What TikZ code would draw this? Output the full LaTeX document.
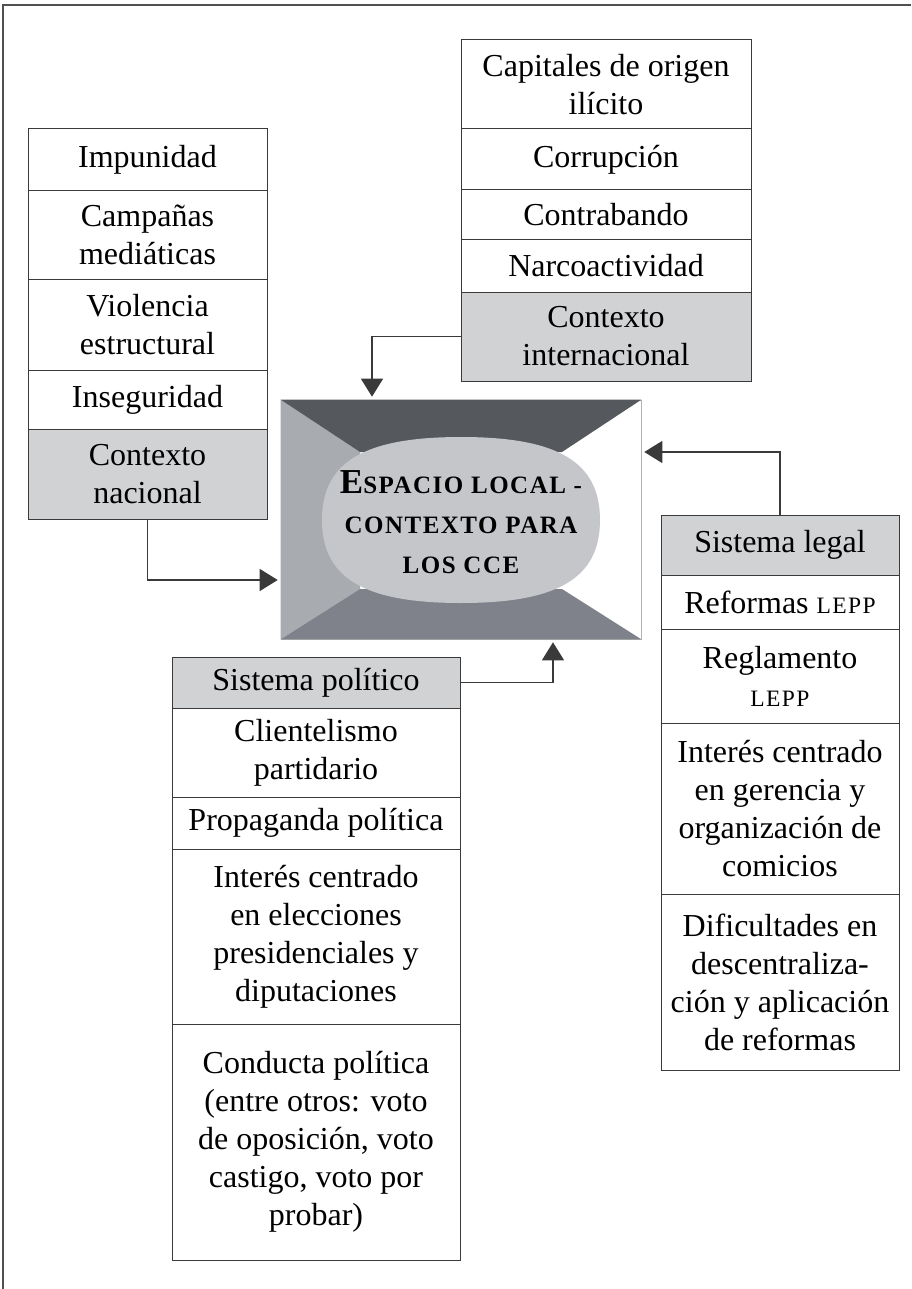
\documentclass[tikz,border=0pt]{standalone}
\usepackage{fontspec}
\setmainfont{Liberation Serif}
\newfontfamily\scfont{Liberation Serif}[LetterSpace=6]
\usetikzlibrary{arrows.meta}

\definecolor{linecol}{HTML}{3A3A3A}
\definecolor{framecol}{HTML}{505050}
\definecolor{hdr}{HTML}{D1D2D4}
\definecolor{sidecol}{HTML}{A8ABB0}
\definecolor{topcol}{HTML}{55585D}
\definecolor{botcol}{HTML}{7F828A}
\definecolor{corecol}{HTML}{C4C6CA}

% small capitals imitated with reduced upper-case letters
\newcommand\fsc[1]{{\scfont\fontsize{23.5}{38}\selectfont #1}}
\newcommand\fscb[1]{{\scfont\bfseries\fontsize{25}{38}\selectfont #1}}

% one cell of a stack: name, x1, y1, x2, y2, extra options, text
\newcommand\mkcell[7]{%
  \node[cell,#6,minimum width={(#4-#2)*1pt},minimum height={(#5-#3)*1pt}]
    (#1) at ({(#2+#4)/2},{(#3+#5)/2}) {#7};}

\begin{document}
\begin{tikzpicture}[x=1pt,y=-1pt,
  cell/.style={draw=linecol,line width=1pt,fill=white,inner sep=0pt,
    align=center,font=\fontsize{32}{38}\selectfont},
  head/.style={fill=hdr},
  arr/.style={draw=linecol,line width=1.2pt,
    -{Triangle[length=18pt,width=22pt]},shorten >=3pt}]

\useasboundingbox (0,0) rectangle (911,1289);

% page frame (top and left rules)
\draw[framecol,line width=2.5pt] (911,5) -- (3,5) -- (3,1289);

% national context
\mkcell{L1}{28}{129}{267}{191}{}{Impunidad}
\mkcell{L2}{28}{191}{267}{279}{}{Campañas\\mediáticas}
\mkcell{L3}{28}{279}{267}{370}{}{Violencia\\estructural}
\mkcell{L4}{28}{370}{267}{429}{}{Inseguridad}
\mkcell{L5}{28}{429}{267}{519}{head}{Contexto\\nacional}

% international context
\mkcell{T1}{461}{40}{751}{129}{}{Capitales de origen\\ilícito}
\mkcell{T2}{461}{129}{751}{190}{}{Corrupción}
\mkcell{T3}{461}{190}{751}{240}{}{Contrabando}
\mkcell{T4}{461}{240}{751}{292}{}{Narcoactividad}
\mkcell{T5}{461}{292}{751}{381}{head}{Contexto\\internacional}

% legal system
\mkcell{R1}{661}{515}{899}{575}{head}{Sistema legal}
\mkcell{R2}{661}{575}{899}{629}{}{Reformas \fsc{LEPP}}
\mkcell{R3}{661}{629}{899}{723}{}{Reglamento\\\fsc{LEPP}}
\mkcell{R4}{661}{723}{899}{894}{}{Interés centrado\\en gerencia y\\organización de\\comicios}
\mkcell{R5}{661}{894}{899}{1070}{}{Dificultades en\\descentraliza-\\ción y aplicación\\de reformas}

% political system
\mkcell{B1}{172}{657}{460}{708}{head}{Sistema político}
\mkcell{B2}{172}{708}{460}{797}{}{Clientelismo\\partidario}
\mkcell{B3}{172}{797}{460}{849}{}{Propaganda política}
\mkcell{B4}{172}{849}{460}{1024}{}{Interés centrado\\en elecciones\\presidenciales y\\diputaciones}
\mkcell{B5}{172}{1024}{460}{1260}{}{Conducta política\\(entre otros: voto\\de oposición, voto\\castigo, voto por\\probar)}

% central framed space
\node[draw=gray!60,line width=0.6pt,minimum width=360pt,minimum height=239pt,
  inner sep=0pt] (box) at (461,519.5) {};
\coordinate (inw) at (360,452);
\coordinate (ine) at (562,452);
\coordinate (isw) at (360,589);
\coordinate (ise) at (562,589);
\fill[sidecol] (box.north west) -- (inw) -- (isw) -- (box.south west) -- cycle;
\fill[topcol] (box.north west) -- (box.north east) -- (ine) -- (inw) -- cycle;
\fill[botcol] (box.south west) -- (isw) -- (ise) -- (box.south east) -- cycle;
\draw[gray!60,line width=0.6pt] (box.north east) -- (box.south east);
\fill[corecol] (322,520)
  .. controls (322,462) and (364,437) .. (461,437)
  .. controls (558,437) and (600,462) .. (600,520)
  .. controls (600,578) and (558,603) .. (461,603)
  .. controls (364,603) and (322,578) .. (322,520) -- cycle;
\node[align=center,inner sep=0pt,font=\bfseries\fontsize{35}{40}\selectfont]
  (core) at (461,522) {E\fscb{SPACIO LOCAL -}\\\fscb{CONTEXTO PARA}\\\fscb{LOS CCE}};

% influences on the local space
\draw[arr] (L5.south) |- ([yshift=-60.5pt]box.west);
\draw[arr] (T5.west) -| ([xshift=-89pt]box.north);
\draw[arr] (R1.north) |- ([yshift=67.5pt]box.east);
\draw[arr] (B1.east) -| ([xshift=92pt]box.south);
\end{tikzpicture}
\end{document}
